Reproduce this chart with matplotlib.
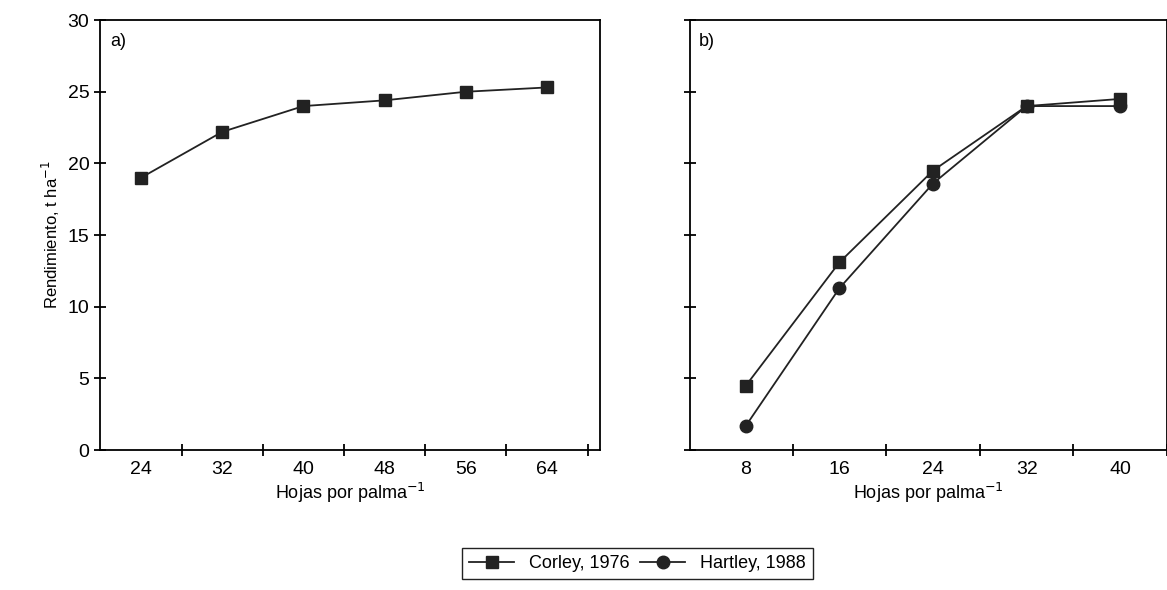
import matplotlib.pyplot as plt
import numpy as np

plt.rcParams['font.family'] = ['Liberation Sans', 'DejaVu Sans']

hojas_a = ['24', '32', '40', '48', '56', '64']
corley_a = [19.0, 22.2, 24.0, 24.4, 25.0, 25.3]

hojas_b = ['8', '16', '24', '32', '40']
corley_b = [4.5, 13.1, 19.5, 24.0, 24.5]
hartley_b = [1.7, 11.3, 18.6, 24.0, 24.0]

fig = plt.figure(figsize=(11.67, 5.90), dpi=100)
ax1 = fig.add_axes([0.086, 0.237, 0.428, 0.729])
ax2 = fig.add_axes([0.591, 0.237, 0.409, 0.729])

kw_sq = dict(color='#222222', marker='s', markersize=9, lw=1.3)
kw_ci = dict(color='#222222', marker='o', markersize=9, lw=1.3)

xa = np.arange(len(hojas_a))
l1, = ax1.plot(xa, corley_a, **kw_sq)
ax1.set_xlim(-0.5, 5.65)

xb = np.arange(len(hojas_b))
ax2.plot(xb, hartley_b, **kw_ci)
ax2.plot(xb, corley_b, **kw_sq)
l2, = ax2.plot([], [], **kw_ci)
ax2.set_xlim(-0.6, 4.2)

for ax, labels in ((ax1, hojas_a), (ax2, hojas_b)):
    n = len(labels)
    ax.set_ylim(0, 30)
    ax.set_xticks(np.arange(n) + 0.5)
    ax.set_xticklabels([])
    ax.set_xticks(np.arange(n), minor=True)
    ax.set_xticklabels(labels, minor=True, fontsize=14)
    ax.tick_params(axis='x', which='minor', length=0, pad=8)
    ax.tick_params(axis='x', which='major', direction='inout', length=9, width=1.3)
    ax.tick_params(axis='y', direction='inout', length=9, width=1.3, labelsize=14)
    ax.set_yticks(range(0, 31, 5))
    ax.set_xlabel('Hojas por palma$^{-1}$', fontsize=13, labelpad=2)
    for s in ax.spines.values():
        s.set_linewidth(1.3)

ax2.set_yticklabels([])
ax1.set_ylabel('Rendimiento, t ha$^{-1}$', fontsize=12)
ax1.text(0.02, 0.97, 'a)', transform=ax1.transAxes, fontsize=13, va='top')
ax2.text(0.02, 0.97, 'b)', transform=ax2.transAxes, fontsize=13, va='top')

fig.legend([l1, l2], ['Corley, 1976', 'Hartley, 1988'], loc='center',
           bbox_to_anchor=(0.546, 0.045), ncol=2, fontsize=13, fancybox=False,
           edgecolor='#222222', handlelength=2.5, columnspacing=0.6, framealpha=1)

fig.savefig('out.png')
